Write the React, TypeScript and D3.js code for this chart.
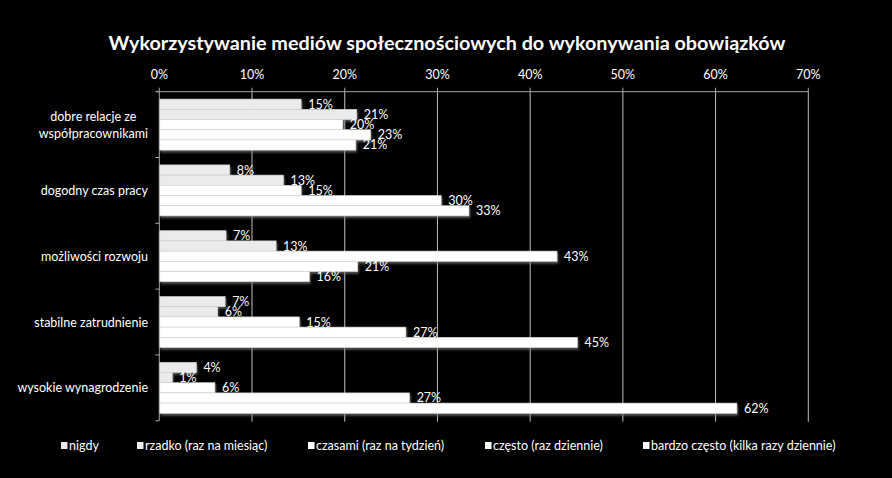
import React, { useEffect, useRef } from "react";
import * as d3 from "d3";

const TITLE = "Wykorzystywanie mediów społecznościowych do wykonywania obowiązków";
const categories = [
  "dobre relacje ze współpracownikami",
  "dogodny czas pracy",
  "możliwości rozwoju",
  "stabilne zatrudnienie",
  "wysokie wynagrodzenie",
];
const seriesNames = [
  "nigdy",
  "rzadko (raz na miesiąc)",
  "czasami (raz na tydzień)",
  "często (raz dziennie)",
  "bardzo często (kilka razy dziennie)",
];
// values in percent, per series, in category order
const nigdy = [15.3, 7.6, 7.2, 7.1, 4.0];
const rzadko = [21.3, 13.4, 12.6, 6.3, 1.4];
const czasami = [19.8, 15.3, 42.9, 15.1, 6.0];
const czesto = [22.8, 30.4, 21.4, 26.6, 27.0];
const bardzoCzesto = [21.2, 33.4, 16.2, 45.1, 62.3];
const seriesValues = [nigdy, rzadko, czasami, czesto, bardzoCzesto];
const seriesColors = ["#ebebeb", "#ebebeb", "#ffffff", "#ffffff", "#ffffff"];
const xTicks = [0, 10, 20, 30, 40, 50, 60, 70];

const W = 892;
const H = 478;
const FONT = "Lato, 'Open Sans', sans-serif";
const LEGEND_X = [61, 137, 308, 485, 643];

function wrap(label: string, maxChars: number): string[] {
  const words = label.split(" ");
  const lines: string[] = [];
  let cur = "";
  for (const w of words) {
    const next = cur ? cur + " " + w : w;
    if (next.length > maxChars && cur) {
      lines.push(cur);
      cur = w;
    } else cur = next;
  }
  if (cur) lines.push(cur);
  return lines;
}

export default function App() {
  const ref = useRef<SVGSVGElement>(null);
  useEffect(() => {
    const svg = d3.select(ref.current);
    svg.selectAll("*").remove();

    const x = d3.scaleLinear().domain([0, 70]).range([159.3, 808.3]);
    const y = d3.scaleBand<string>().domain(categories).range([91.7, 420.7]).paddingInner(0.225).paddingOuter(0.1125);
    const ys = d3.scaleBand<number>().domain(d3.range(seriesNames.length)).range([0, y.bandwidth()]);

    const defs = svg.append("defs");
    const f = defs.append("filter").attr("id", "sh").attr("x", "-5%").attr("y", "-50%").attr("width", "115%").attr("height", "250%");
    f.append("feDropShadow").attr("dx", 1).attr("dy", 2).attr("stdDeviation", 1.2).attr("flood-color", "#7a7a7a").attr("flood-opacity", 0.7);

    svg.append("rect").attr("width", W).attr("height", H).attr("fill", "#000");

    svg.append("text")
      .attr("x", 447).attr("y", 50)
      .attr("text-anchor", "middle")
      .attr("fill", "#fff")
      .attr("font-family", FONT)
      .attr("font-weight", "bold")
      .attr("font-size", 19.8)
      .text(TITLE);

    const [y0, y1] = y.range();
    // gridlines
    svg.append("g").selectAll("line").data(xTicks.slice(1)).join("line")
      .attr("x1", (d) => x(d)).attr("x2", (d) => x(d))
      .attr("y1", y0).attr("y2", y1 + 1)
      .attr("stroke", "#bfbfbf").attr("stroke-width", 1);

    // top axis line and ticks
    svg.append("line").attr("x1", x(0) - 3.5).attr("x2", x(70)).attr("y1", y0).attr("y2", y0).attr("stroke", "#a6a6a6");
    svg.append("g").selectAll("line").data(xTicks).join("line")
      .attr("x1", (d) => x(d)).attr("x2", (d) => x(d))
      .attr("y1", y0 - 4).attr("y2", y0)
      .attr("stroke", "#a6a6a6");
    svg.append("g").selectAll("text").data(xTicks).join("text")
      .attr("x", (d) => x(d)).attr("y", y0 - 13)
      .attr("text-anchor", "middle")
      .attr("fill", "#fff").attr("font-family", FONT).attr("font-size", 12.5)
      .text((d) => d + "%");

    // category axis
    svg.append("line").attr("x1", x(0)).attr("x2", x(0)).attr("y1", y0).attr("y2", y1).attr("stroke", "#a6a6a6");
    const step = y.step();
    svg.append("g").selectAll("line").data(d3.range(categories.length + 1)).join("line")
      .attr("x1", x(0) - 4).attr("x2", x(0))
      .attr("y1", (i) => y0 + i * step).attr("y2", (i) => y0 + i * step)
      .attr("stroke", "#a6a6a6");

    // category labels
    const labelRight = 148;
    categories.forEach((c) => {
      const lines = wrap(c, 21);
      const cy = (y(c) as number) + y.bandwidth() / 2;
      const lh = 17;
      const g = svg.append("g");
      const texts = lines.map((ln, i) =>
        g.append("text")
          .attr("y", cy + (i - (lines.length - 1) / 2) * lh + 4.5)
          .attr("fill", "#fff").attr("font-family", FONT).attr("font-size", 12.5)
          .text(ln)
      );
      const widths = texts.map((t) => (t.node() as SVGTextElement).getComputedTextLength());
      const maxW = Math.max(...widths);
      const center = labelRight - maxW / 2;
      texts.forEach((t) => t.attr("x", center).attr("text-anchor", "middle"));
    });

    // bars
    const bars = svg.append("g").attr("filter", "url(#sh)");
    const labels = svg.append("g");
    seriesValues.forEach((vals, si) => {
      vals.forEach((v, ci) => {
        const by = (y(categories[ci]) as number) + (ys(si) as number);
        bars.append("rect")
          .attr("x", x(0) + 0.5).attr("y", by)
          .attr("width", x(v) - x(0) - 0.5).attr("height", ys.bandwidth())
          .attr("fill", seriesColors[si])
          .attr("stroke", "#d0d0d0").attr("stroke-width", 0.6);
        labels.append("text")
          .attr("x", x(v) + 7).attr("y", by + ys.bandwidth() / 2 + 4.5)
          .attr("fill", "#fff").attr("font-family", FONT).attr("font-size", 12.5)
          .text(Math.round(v) + "%");
      });
    });

    // legend
    const lg = svg.append("g");
    seriesNames.forEach((n, i) => {
      lg.append("rect").attr("x", LEGEND_X[i]).attr("y", 442).attr("width", 6.5).attr("height", 7)
        .attr("fill", seriesColors[i]);
      lg.append("text").attr("x", LEGEND_X[i] + 8).attr("y", 450)
        .attr("fill", "#fff").attr("font-family", FONT).attr("font-size", 12.5)
        .text(n);
    });
  }, []);
  return (
    <svg ref={ref} width={W} height={H} style={{ position: "absolute", left: 0, top: 0, display: "block" }} />
  );
}
